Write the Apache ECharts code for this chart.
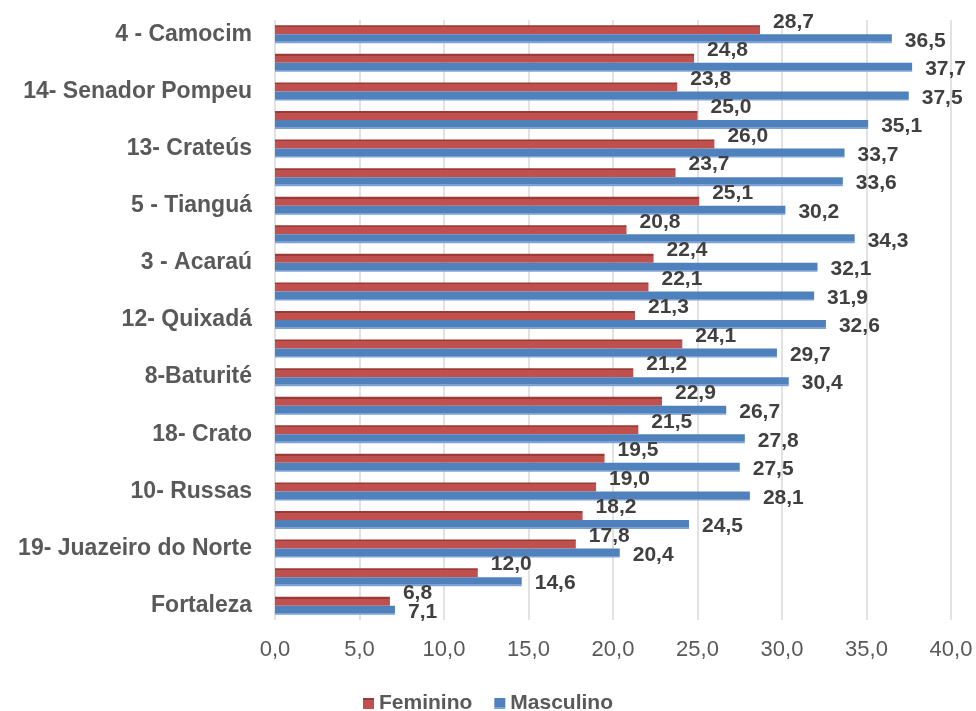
<!DOCTYPE html>
<html>
<head>
<meta charset="utf-8">
<script src="https://cdn.jsdelivr.net/npm/echarts@6/dist/echarts.min.js"></script>
<style>html,body{margin:0;padding:0;background:#fff}#c{width:976px;height:711px}</style>
</head>
<body>
<div id="c"></div>
<script>
// Categories top to bottom (only every other region is labelled in the source)
var categories = ['4 - Camocim', '', '14- Senador Pompeu', '', '13- Crateús', '', '5 - Tianguá', '', '3 - Acaraú', '', '12- Quixadá', '', '8-Baturité', '', '18- Crato', '', '10- Russas', '', '19- Juazeiro do Norte', '', 'Fortaleza'];
var feminino = [28.7, 24.8, 23.8, 25.0, 26.0, 23.7, 25.1, 20.8, 22.4, 22.1, 21.3, 24.1, 21.2, 22.9, 21.5, 19.5, 19.0, 18.2, 17.8, 12.0, 6.8];
var masculino = [36.5, 37.7, 37.5, 35.1, 33.7, 33.6, 30.2, 34.3, 32.1, 31.9, 32.6, 29.7, 30.4, 26.7, 27.8, 27.5, 28.1, 24.5, 20.4, 14.6, 7.1];
var xTicks = [0, 5, 10, 15, 20, 25, 30, 35, 40];

var FONT = 'Liberation Sans, Arial, sans-serif';
function fmt(v) { return Number(v).toFixed(1).replace('.', ','); }

var chart = echarts.init(document.getElementById('c'));
chart.setOption({
  animation: false,
  backgroundColor: '#fff',
  grid: { left: 275, right: 25, top: 20, height: 600, containLabel: false },
  legend: {
    data: ['Feminino', 'Masculino'],
    top: 693,
    left: 'center',
    padding: 0,
    icon: 'rect',
    itemWidth: 11,
    itemHeight: 11,
    itemGap: 22,
    textStyle: { fontFamily: FONT, fontSize: 21, fontWeight: 'bold', color: '#595959' }
  },
  xAxis: {
    type: 'value',
    min: xTicks[0],
    max: xTicks[xTicks.length - 1],
    interval: 5,
    axisLine: { show: false },
    axisTick: { show: false },
    splitLine: { show: true, lineStyle: { color: '#d9d9d9', width: 1.5 } },
    axisLabel: {
      margin: 19,
      fontFamily: FONT, fontSize: 22, color: '#595959',
      formatter: function (v) { return fmt(v); }
    }
  },
  yAxis: {
    type: 'category',
    inverse: true,
    data: categories,
    axisLine: { show: false },
    axisTick: { show: false },
    axisLabel: {
      interval: 0,
      margin: 23,
      fontFamily: FONT, fontSize: 23, fontWeight: 'bold', color: '#595959'
    }
  },
  series: [
    {
      name: 'Feminino',
      type: 'bar',
      data: feminino,
      barWidth: 9,
      barGap: '0%',
      itemStyle: {
        color: {
          type: 'linear', x: 0, y: 0, x2: 0, y2: 1,
          colorStops: [
            { offset: 0, color: '#9b3b38' }, { offset: 0.2, color: '#9b3b38' },
            { offset: 0.2, color: '#C0504D' }, { offset: 1, color: '#C0504D' }
          ]
        }
      },
      label: {
        show: true, position: 'right', offset: [8, -8],
        fontFamily: FONT, fontSize: 21, fontWeight: 'bold', color: '#404040',
        formatter: function (p) { return fmt(p.value); }
      }
    },
    {
      name: 'Masculino',
      type: 'bar',
      data: masculino,
      barWidth: 9,
      barGap: '0%',
      itemStyle: {
        color: {
          type: 'linear', x: 0, y: 0, x2: 0, y2: 1,
          colorStops: [
            { offset: 0, color: '#4F81BD' }, { offset: 0.8, color: '#4F81BD' },
            { offset: 0.8, color: '#7da1d3' }, { offset: 1, color: '#7da1d3' }
          ]
        }
      },
      label: {
        show: true, position: 'right', offset: [8, 2],
        fontFamily: FONT, fontSize: 21, fontWeight: 'bold', color: '#404040',
        formatter: function (p) { return fmt(p.value); }
      }
    }
  ],
  color: ['#C0504D', '#4F81BD']
});
</script>
</body>
</html>
